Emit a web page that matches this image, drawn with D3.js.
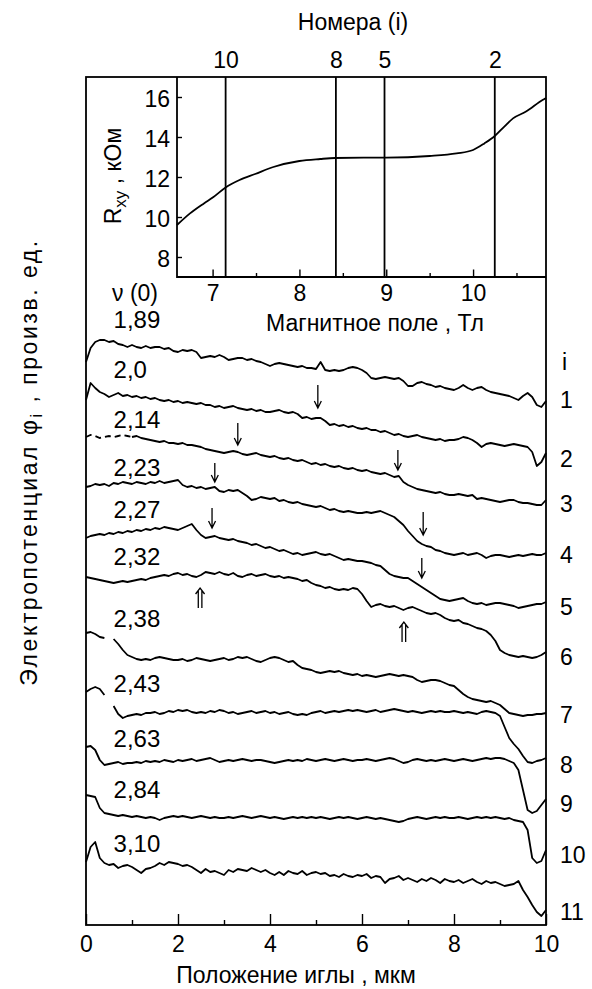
<!DOCTYPE html>
<html><head><meta charset="utf-8">
<script src="https://cdn.jsdelivr.net/npm/d3@7"></script>
<style>
body{margin:0;background:#fff;}
svg{display:block;}
text{font-family:"Liberation Sans", Arial, Helvetica, sans-serif; fill:#000;}
</style></head><body>
<svg id="chart" width="592" height="989"></svg>
<script>
// ---------------- DATA ----------------
// probe positions, µm (0.1 µm sampling grid)
const positionUm = d3.range(101).map(k => k / 10);

// electropotential profiles, arbitrary units (one per filling factor)
const phi1 = [638,652,658,660,660,658,659,656,655,653, 655,653,652,654,652,653,653,651,652,649,
  648,650,649,650,648,642,643,644,643,645, 643,640,641,642,642,640,641,639,638,636,
  634,636,637,636,635,634,633,634,632,632, 631,638,630,629,630,629,630,632,633,632,
  630,627,622,621,622,623,622,621,622,619, 614,614,617,618,616,615,613,614,612,611,
  610,612,615,612,610,612,613,610,608,607, 606,605,604,602,600,604,607,603,595,593, 599];
const phi2 = [600,617,612,608,606,603,605,607,604,605, 603,604,602,603,601,602,600,599,600,598,
  599,597,598,597,596,597,595,595,593,594, 592,593,594,592,591,590,591,589,590,588,
  588,589,590,588,587,588,586,582,583,581, 582,582,579,575,576,574,575,573,574,572,
  571,572,570,570,568,569,567,565,566,564, 563,564,565,563,562,561,560,561,559,560,
  560,561,563,562,560,557,553,556,557,556, 555,554,555,556,555,554,553,548,534,538, 547];
const phi3 = [563,565,564,562,563,564,563,564,565,564, 563,564,562,561,560,559,558,559,557,557,
  556,557,555,555,554,553,551,550,549,548, 547,548,549,548,546,545,546,547,545,544,
  543,544,542,541,542,540,539,540,538,536, 537,535,536,534,533,534,532,531,532,530,
  529,530,528,527,526,527,525,523,524,518, 515,513,511,510,509,508,507,508,506,505,
  505,506,505,504,505,501,502,501,500,499, 498,499,500,500,498,497,497,496,495,495, 500];
const phi4 = [513,514,516,515,516,514,517,516,518,517, 516,518,517,516,518,517,519,517,518,519,
  520,515,513,514,512,513,511,512,513,509, 508,510,509,510,507,504,500,501,503,502,
  501,502,499,500,498,497,498,496,495,494, 493,494,492,490,491,489,488,489,488,487,
  487,488,487,488,489,487,485,483,479,475, 469,464,459,456,454,453,450,449,447,446,
  445,446,447,445,446,447,445,442,444,445, 445,444,443,444,445,444,445,446,445,445, 447];
const phi5 = [462,464,465,466,465,467,466,468,467,469, 468,470,469,471,470,472,471,473,472,471,
  470,472,474,476,470,465,462,463,464,462, 461,460,461,459,458,457,455,456,454,452,
  453,451,449,450,448,446,447,445,446,447, 448,446,445,446,444,442,440,441,440,439,
  439,438,437,435,434,430,426,424,423,422, 422,419,416,413,410,407,404,401,400,399,
  400,401,402,399,397,396,397,395,396,397, 397,396,395,394,392,393,394,395,396,396, 398];
const phi6 = [423,422,421,420,419,418,417,418,419,418, 419,420,421,420,422,423,424,425,424,426,
  427,425,426,424,423,425,428,427,426,428, 426,425,427,424,423,425,426,424,425,426,
  424,423,424,422,423,422,421,419,420,417, 415,414,412,413,411,410,411,410,412,411,
  406,399,393,395,396,394,393,394,392,390, 392,393,391,389,387,386,387,385,382,380,
  379,380,377,376,374,372,371,369,365,359, 350,347,345,344,343,344,343,342,343,345, 348];
const phi7 = [367,368,366,363,362,null,361,356,350,345, 343,341,340,341,340,342,343,342,341,340,
  340,341,339,340,342,341,340,339,340,341, 342,340,341,343,342,343,341,339,338,340,
  342,343,342,340,338,339,335,332,331,330, 328,327,328,329,328,329,327,326,325,326,
  324,325,324,323,324,325,326,325,324,325, 324,323,320,318,319,320,320,319,317,315,
  314,310,306,303,301,300,299,298,299,297, 295,291,287,286,285,284,285,285,286,286, 287];
const phi8 = [308,311,313,311,305,null,294,286,282,284, 285,286,285,287,287,288,286,287,289,288,
  290,289,290,288,287,288,287,289,288,290, 289,287,288,286,287,288,289,287,288,289,
  287,288,286,287,288,286,285,286,285,287, 288,289,287,288,289,288,289,290,289,290,
  289,288,289,290,288,289,290,291,290,289, 288,289,288,287,288,289,288,289,288,288,
  289,288,287,288,287,286,288,289,288,287, 284,273,262,256,251,244,238,237,239,240, 242];
const phi9 = [253,254,250,240,235,236,237,238,236,237, 237,238,237,239,238,239,238,240,239,238,
  240,239,240,241,239,240,241,242,240,238, 239,240,239,240,241,240,239,240,240,239,
  238,237,238,239,240,239,240,239,241,240, 239,240,241,240,239,240,241,240,239,240,
  240,241,240,239,240,241,242,241,239,237, 238,240,241,240,239,240,239,240,241,240,
  239,240,241,240,239,240,241,242,241,242, 242,241,239,237,230,210,190,187,189,195, 201];
const phi10 = [205,204,203,192,187,186,185,184,185,184, 183,184,183,182,183,182,180,182,183,184,
  183,184,183,182,183,184,183,182,183,182, 182,183,182,183,184,183,182,183,184,183,
  182,183,182,181,182,183,182,183,182,183, 182,183,182,181,182,183,182,183,182,181,
  182,183,182,181,182,181,180,179,178,179, 181,182,183,182,181,182,183,182,183,182,
  182,183,182,181,182,183,182,183,182,183, 182,181,182,180,179,178,170,142,137,139, 150];
const phi11 = [138,153,158,142,137,135,136,132,134,135, 133,130,127,131,132,134,137,135,138,137,
  136,134,135,133,130,127,131,128,129,127, 125,130,128,131,130,129,132,130,128,130,
  127,125,128,125,129,127,126,129,125,127, 128,126,127,124,125,123,126,124,123,125,
  124,126,122,124,123,117,121,122,124,120, 122,120,118,121,119,122,120,117,121,119,
  118,120,117,119,121,118,116,119,117,118, 116,114,115,116,119,110,103,95,88,84, 90];
const profiles = [phi1, phi2, phi3, phi4, phi5, phi6, phi7, phi8, phi9, phi10, phi11];

// filling factor labels nu(0) and their anchor levels (same arbitrary units)
const nuLabels = ["1,89","2,0","2,14","2,23","2,27","2,32","2,38","2,43","2,63","2,84","3,10"];
const nuLabelLevel = [672, 622, 572, 524, 482, 435, 373, 308, 253, 202, 148];
// curve numbers i on the right
const curveNumbers = ["1","2","3","4","5","6","7","8","9","10","11"];
const curveNumberLevel = [592, 533, 488, 437, 385, 335, 277, 227, 188, 137, 80];

// arrows (single, pointing down): position µm, from level, to level
const arrowPos  = [5.04, 3.30, 6.78, 2.80, 7.33, 2.74, 7.30];
const arrowFrom = [615, 577, 550, 537, 488, 492, 442];
const arrowTo   = [592, 555, 530, 518, 465, 472, 422];
// double arrows (pointing up)
const dblPos  = [2.48, 6.91];
const dblFrom = [392, 358];
const dblTo   = [412, 378];

// inset: Hall resistance vs magnetic field
const fieldT = [6.59, 6.74, 6.90, 7.01, 7.15, 7.31, 7.49, 7.70, 8.00, 8.24, 8.41, 8.74, 9.00, 9.50, 9.81, 10.00, 10.13, 10.25, 10.36, 10.46, 10.61, 10.80, 10.84];
const rxyKOhm = [9.6, 10.18, 10.68, 11.0, 11.48, 11.85, 12.15, 12.5, 12.8, 12.9, 12.95, 12.97, 12.97, 13.05, 13.18, 13.35, 13.68, 14.05, 14.52, 14.93, 15.27, 15.85, 15.95];
const markerField = [7.15, 8.42, 8.98, 10.25];
const markerLabels = ["10", "8", "5", "2"];
const insetXTicks = [7, 8, 9, 10];
const insetXMinor = [7.5, 8.5, 9.5, 10.5];
const insetYTicks = [8, 10, 12, 14, 16];
const mainXTicks = [0, 2, 4, 6, 8, 10];
const mainXMinor = [1, 3, 5, 7, 9];

// ---------------- DRAWING ----------------
const svg = d3.select("#chart");
const FS = 23;     // general text
const FN = 24;     // nu labels

const x = d3.scaleLinear().domain([0, 10]).range([86, 546]);
const y = d3.scaleLinear().domain([75, 923]).range([925, 77]);
const bx = d3.scaleLinear().domain([6.59, 10.84]).range([177, 546]);
const ry = d3.scaleLinear().domain([7, 17]).range([277, 77]);

const lineW = 1.8;

// main frame
svg.append("rect").attr("x", x(0)).attr("y", y.range()[1])
  .attr("width", x(10) - x(0)).attr("height", y.range()[0] - y.range()[1])
  .attr("fill", "none").attr("stroke", "#000").attr("stroke-width", lineW);

// main x axis
const gx = svg.append("g").attr("transform", `translate(0,${y.range()[0]})`)
  .call(d3.axisBottom(x).tickValues(mainXTicks).tickSize(-11).tickPadding(11).tickFormat(d3.format("d")));
gx.select(".domain").remove();
gx.selectAll("line").attr("stroke-width", 1.4);
gx.selectAll("text").attr("font-size", FS).attr("font-family", null);
const gxm = svg.append("g").attr("transform", `translate(0,${y.range()[0]})`)
  .call(d3.axisBottom(x).tickValues(mainXMinor).tickSize(-5).tickFormat(""));
gxm.select(".domain").remove();
gxm.selectAll("line").attr("stroke-width", 1.4);

svg.append("text").attr("x", 296).attr("y", 983).attr("text-anchor", "middle").attr("font-size", FS)
  .text("Положение иглы ,  мкм");

// y label (stretched to the reference length)
const yl = svg.append("text").attr("transform", "translate(37,462) rotate(-90)")
  .attr("text-anchor", "middle").attr("font-size", FS);
yl.append("tspan").text("Электропотенциал  φ");
yl.append("tspan").attr("font-size", 16).attr("dy", 5).text("i");
yl.append("tspan").attr("dy", -5).text("  ,  произв. ед.");
{
  const target = 455;
  const len = yl.node().getComputedTextLength();
  const n = yl.text().length;
  yl.style("letter-spacing", ((target - len) / n) + "px");
}

// profiles
const line = d3.line().defined(d => d[1] != null).x(d => x(d[0])).y(d => y(d[1]));
profiles.forEach((p, ci) => {
  const pts = p.map((v, k) => [positionUm[k], v]);
  if (ci === 2) {
    svg.append("path").attr("d", line(pts.slice(0, 11))).attr("fill", "none")
      .attr("stroke", "#000").attr("stroke-width", lineW).attr("stroke-dasharray", "6,4");
    svg.append("path").attr("d", line(pts.slice(10))).attr("fill", "none")
      .attr("stroke", "#000").attr("stroke-width", lineW).attr("stroke-linejoin", "round");
  } else {
    svg.append("path").attr("d", line(pts)).attr("fill", "none")
      .attr("stroke", "#000").attr("stroke-width", lineW).attr("stroke-linejoin", "round");
  }
});

// nu labels
svg.selectAll("text.nu").data(nuLabels).join("text").attr("class", "nu")
  .attr("x", x(0.6)).attr("y", (d, i) => y(nuLabelLevel[i])).attr("font-size", FN).text(d => d);
// curve numbers
svg.selectAll("text.cn").data(curveNumbers).join("text").attr("class", "cn")
  .attr("x", x(10) + 14).attr("y", (d, i) => y(curveNumberLevel[i])).attr("font-size", FS).text(d => d);
svg.append("text").attr("x", x(10) + 16).attr("y", y(630)).attr("font-size", FS).text("i");

// arrows
arrowPos.forEach((p, i) => {
  const ax = x(p), y0 = y(arrowFrom[i]), y1 = y(arrowTo[i]);
  svg.append("path").attr("d", `M${ax},${y0}V${y1}M${ax - 3.5},${y1 - 7}L${ax},${y1}L${ax + 3.5},${y1 - 7}`)
    .attr("fill", "none").attr("stroke", "#000").attr("stroke-width", 1.3);
});
dblPos.forEach((p, i) => {
  const ax = x(p), y0 = y(dblFrom[i]), y1 = y(dblTo[i]);
  svg.append("path").attr("d", `M${ax - 1.8},${y0}V${y1 + 3}M${ax + 1.8},${y0}V${y1 + 3}M${ax - 4.5},${y1 + 6}L${ax},${y1}L${ax + 4.5},${y1 + 6}`)
    .attr("fill", "none").attr("stroke", "#000").attr("stroke-width", 1.3);
});

// ---------------- INSET ----------------
svg.append("path").attr("d", `M${bx.range()[0]},${ry.range()[1]}V${ry.range()[0]}H${bx.range()[1]}`)
  .attr("fill", "none").attr("stroke", "#000").attr("stroke-width", lineW);

const ix = svg.append("g").attr("transform", `translate(0,${ry.range()[0]})`)
  .call(d3.axisBottom(bx).tickValues(insetXTicks).tickSize(-7.5).tickPadding(8).tickFormat(d3.format("d")));
ix.select(".domain").remove();
ix.selectAll("line").attr("stroke-width", 1.4);
ix.selectAll("text").attr("font-size", FS).attr("font-family", null);
const ixm = svg.append("g").attr("transform", `translate(0,${ry.range()[0]})`)
  .call(d3.axisBottom(bx).tickValues(insetXMinor).tickSize(-4).tickFormat(""));
ixm.select(".domain").remove();
ixm.selectAll("line").attr("stroke-width", 1.4);

const iy = svg.append("g").attr("transform", `translate(${bx.range()[0]},0)`)
  .call(d3.axisLeft(ry).tickValues(insetYTicks).tickSize(-5).tickPadding(7));
iy.select(".domain").remove();
iy.selectAll("line").attr("stroke-width", 1.4);
iy.selectAll("text").attr("font-size", FS).attr("font-family", null).attr("dy", "0.4em");

const it = svg.append("g").attr("transform", `translate(0,${ry.range()[1]})`)
  .call(d3.axisTop(bx).tickValues(markerField).tickSize(0).tickPadding(9).tickFormat((d, i) => markerLabels[i]));
it.select(".domain").remove();
it.selectAll("text").attr("font-size", FS).attr("font-family", null);

svg.append("text").attr("x", 353).attr("y", 30).attr("text-anchor", "middle").attr("font-size", FS).text("Номера (i)");

svg.selectAll("line.mk").data(markerField).join("line").attr("class", "mk")
  .attr("x1", d => bx(d)).attr("x2", d => bx(d)).attr("y1", ry.range()[1]).attr("y2", ry.range()[0])
  .attr("stroke", "#000").attr("stroke-width", lineW);

const rl = d3.line().x((d, i) => bx(fieldT[i])).y(d => ry(d)).curve(d3.curveMonotoneX);
svg.append("path").attr("d", rl(rxyKOhm)).attr("fill", "none").attr("stroke", "#000").attr("stroke-width", lineW);

const rt = svg.append("text").attr("transform", "translate(121,176) rotate(-90)").attr("text-anchor", "middle").attr("font-size", FS);
rt.append("tspan").text("R");
rt.append("tspan").attr("font-size", 17).attr("dy", 5).text("xy");
rt.append("tspan").attr("dy", -5).text(" ,  кОм");

svg.append("text").attr("x", 112).attr("y", 301).attr("font-size", FS).text("ν (0)");
svg.append("text").attr("x", 375).attr("y", 331).attr("text-anchor", "middle").attr("font-size", FS).text("Магнитное поле , Тл");
</script>
</body></html>
